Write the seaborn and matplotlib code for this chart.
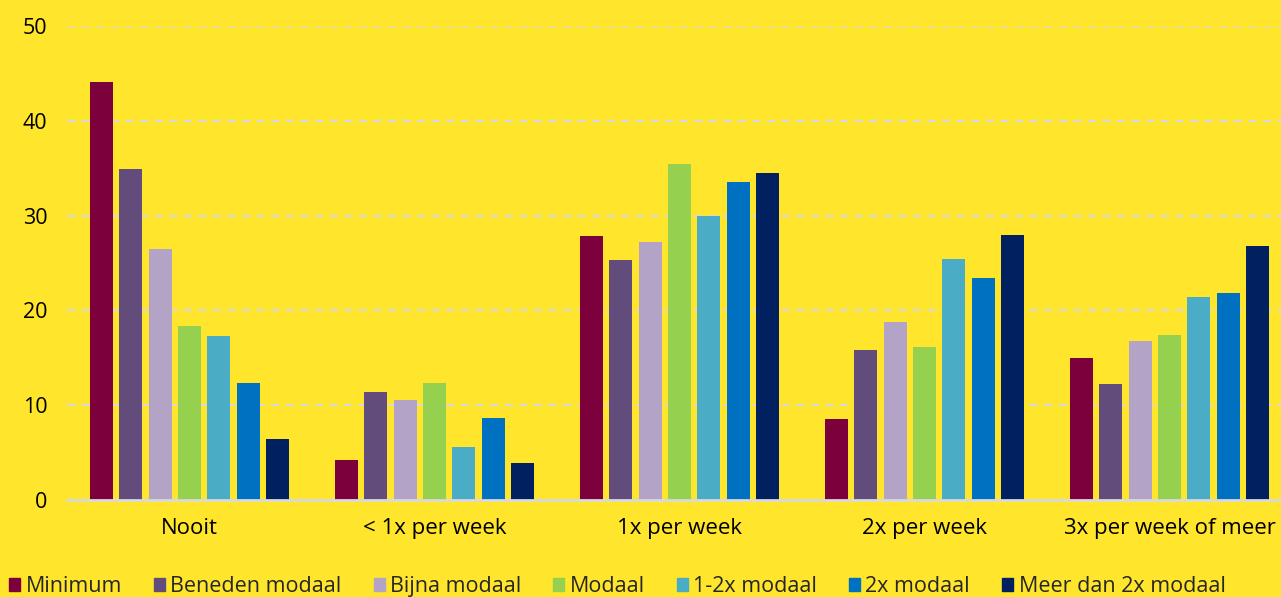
import seaborn as sns
import matplotlib.pyplot as plt
import pandas as pd

# categorieën en reeksen
frequenties = ["Nooit", "< 1x per week", "1x per week", "2x per week", "3x per week of meer"]
inkomens = ["Minimum", "Beneden modaal", "Bijna modaal", "Modaal",
            "1-2x modaal", "2x modaal", "Meer dan 2x modaal"]

minimum = [44.1, 4.2, 27.9, 8.5, 15.0]
beneden_modaal = [34.9, 11.4, 25.3, 15.8, 12.2]
bijna_modaal = [26.5, 10.6, 27.2, 18.8, 16.8]
modaal = [18.4, 12.3, 35.4, 16.1, 17.4]
een_twee_modaal = [17.3, 5.6, 30.0, 25.4, 21.4]
twee_modaal = [12.3, 8.7, 33.5, 23.4, 21.8]
meer_dan_twee = [6.4, 3.9, 34.5, 28.0, 26.8]

kleuren = ["#7B003C", "#624C7C", "#B3A3C7", "#95D04F", "#4BACC6", "#0070C0", "#002060"]
achtergrond = "#FFE52C"

reeksen = [minimum, beneden_modaal, bijna_modaal, modaal,
           een_twee_modaal, twee_modaal, meer_dan_twee]
rows = []
for naam, waarden in zip(inkomens, reeksen):
    for freq, w in zip(frequenties, waarden):
        rows.append({"frequentie": freq, "inkomen": naam, "waarde": w})
df = pd.DataFrame(rows)

sns.set_style("white")
plt.rcParams['font.family'] = ['Open Sans', 'DejaVu Sans']

fig = plt.figure(figsize=(12.81, 5.97), dpi=100, facecolor=achtergrond)
# de plotrand loopt iets voorbij de rechterkant van de figuur (zoals in het origineel)
ax = fig.add_axes([67 / 1281, 1 - 500 / 597, 1225 / 1281, (500 - 26) / 597])
ax.set_facecolor(achtergrond)

sns.barplot(data=df, x="frequentie", y="waarde", hue="inkomen",
            order=frequenties, hue_order=inkomens, palette=kleuren, saturation=1,
            width=0.84, gap=0.22, linewidth=0, errorbar=None, ax=ax, legend=False)

ax.set_ylim(0, 50)
ax.set_xlim(-0.5, 4.5)
ax.set_yticks([0, 10, 20, 30, 40, 50])
ax.yaxis.grid(True, color="#D9D9D9", linestyle=(0, (4, 3)), linewidth=1.5)
ax.set_axisbelow(True)
for s in ["top", "right", "left"]:
    ax.spines[s].set_visible(False)
ax.spines["bottom"].set_color("#D9D9D9")
ax.spines["bottom"].set_linewidth(2)
ax.tick_params(axis="y", length=0, pad=14, labelsize=15.5, labelcolor="black")
ax.tick_params(axis="x", length=0, pad=13, labelsize=16, labelcolor="black")
ax.set_xlabel("")
ax.set_ylabel("")

handles = [plt.Rectangle((0, 0), 1, 1, color=c) for c in kleuren]
fig.legend(handles, inkomens, loc="lower left", bbox_to_anchor=(-0.002, -0.02),
           ncol=7, frameon=False, fontsize=15.5, handlelength=0.5, handleheight=0.5,
           handletextpad=0.25, columnspacing=1.5, borderaxespad=0.15)

fig.savefig("out.png", dpi=100, facecolor=achtergrond)
